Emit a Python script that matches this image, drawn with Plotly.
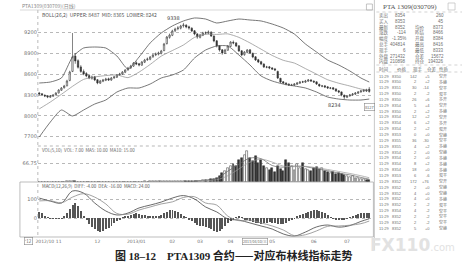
import plotly.graph_objects as go

W, H = 464, 274

# ---------------- daily bars (PTA1309) ----------------
opens = [8330, 8318, 8296, 8290, 8268, 8282, 8302, 8330, 8368, 8405,
         8432, 8510, 8640, 8860, 8795, 8705, 8640, 8610, 8580, 8540,
         8562, 8520, 8470, 8498, 8512, 8534, 8515, 8548, 8556, 8590,
         8600, 8628, 8662, 8690, 8716, 8765, 8750, 8730, 8772, 8808,
         8815, 8850, 8878, 8888, 8900, 8940, 9040, 9130, 9160, 9225,
         9255, 9262, 9296, 9305, 9282, 9262, 9225, 9180, 9130, 9160,
         9195, 9190, 9205, 9148, 9080, 9010, 8950, 8900, 8945, 9000,
         9060, 9050, 9008, 8936, 8880, 8915, 8950, 8900, 8850, 8808,
         8780, 8745, 8700, 8706, 8690, 8676, 8640, 8540, 8490, 8470,
         8455, 8440, 8442, 8455, 8470, 8490, 8485, 8500, 8518, 8500,
         8490, 8455, 8428, 8432, 8418, 8398, 8404, 8388, 8360, 8345,
         8298, 8268, 8288, 8302, 8312, 8326, 8345, 8355, 8375, 8384]
closes = [8314, 8300, 8286, 8271, 8286, 8300, 8329, 8372, 8401, 8430,
          8502, 8631, 8850, 8790, 8700, 8640, 8602, 8574, 8545, 8559,
          8516, 8473, 8502, 8516, 8530, 8516, 8545, 8559, 8588, 8602,
          8631, 8660, 8689, 8718, 8761, 8746, 8732, 8775, 8804, 8818,
          8847, 8876, 8890, 8905, 8934, 9034, 9135, 9164, 9222, 9250,
          9265, 9294, 9308, 9279, 9265, 9222, 9178, 9135, 9164, 9193,
          9193, 9207, 9150, 9078, 9006, 8948, 8905, 8948, 9006, 9063,
          9049, 9006, 8934, 8876, 8919, 8948, 8905, 8847, 8804, 8775,
          8746, 8703, 8703, 8689, 8674, 8660, 8545, 8487, 8473, 8458,
          8444, 8444, 8458, 8473, 8487, 8487, 8502, 8516, 8502, 8487,
          8458, 8430, 8430, 8415, 8401, 8401, 8386, 8358, 8343, 8300,
          8271, 8286, 8300, 8314, 8329, 8343, 8358, 8372, 8358, 8352]
highs = [8345, 8326, 8310, 8298, 8300, 8312, 8340, 8385, 8415, 8446,
         8520, 8650, 9193, 8905, 8815, 8730, 8668, 8630, 8600, 8580,
         8575, 8530, 8518, 8532, 8548, 8550, 8560, 8578, 8600, 8620,
         8645, 8672, 8705, 8735, 8775, 8785, 8762, 8790, 8820, 8840,
         8862, 8892, 8912, 8925, 8950, 9050, 9150, 9185, 9240, 9270,
         9292, 9310, 9338, 9320, 9298, 9275, 9236, 9190, 9180, 9210,
         9215, 9230, 9218, 9160, 9090, 9020, 8962, 8965, 9020, 9075,
         9085, 9062, 9015, 8945, 8932, 8962, 8960, 8910, 8860, 8820,
         8792, 8758, 8720, 8718, 8702, 8690, 8650, 8548, 8502, 8485,
         8470, 8462, 8470, 8488, 8500, 8505, 8518, 8530, 8526, 8510,
         8496, 8462, 8445, 8440, 8425, 8415, 8412, 8395, 8368, 8350,
         8305, 8298, 8315, 8328, 8342, 8356, 8372, 8388, 8390, 8416]
lows = [8295, 8288, 8270, 8255, 8260, 8275, 8296, 8322, 8360, 8392,
        8425, 8498, 8630, 8750, 8680, 8620, 8585, 8556, 8528, 8520,
        8500, 8455, 8460, 8485, 8500, 8502, 8505, 8530, 8545, 8575,
        8590, 8615, 8650, 8675, 8705, 8730, 8712, 8720, 8760, 8790,
        8800, 8836, 8860, 8870, 8885, 8930, 9028, 9110, 9148, 9205,
        9232, 9245, 9270, 9260, 9240, 9205, 9160, 9110, 9115, 9148,
        9170, 9175, 9135, 9060, 8985, 8925, 8880, 8890, 8938, 8990,
        9030, 8990, 8920, 8860, 8865, 8900, 8892, 8830, 8790, 8760,
        8730, 8690, 8685, 8672, 8660, 8645, 8530, 8470, 8458, 8440,
        8430, 8428, 8430, 8445, 8460, 8472, 8475, 8490, 8488, 8474,
        8445, 8418, 8412, 8400, 8388, 8385, 8372, 8345, 8326, 8282,
        8234, 8255, 8275, 8290, 8300, 8315, 8332, 8342, 8345, 8333]
volumes = [0.8, 0.6, 0.7, 0.9, 0.6, 0.8, 1.0, 0.9, 1.2, 1.1,
           1.8, 2.5, 3.2, 2.0, 1.4, 1.2, 1.0, 0.9, 1.1, 0.8,
           0.9, 1.0, 0.8, 0.9, 1.1, 1.0, 1.2, 1.0, 1.3, 1.1,
           1.2, 1.4, 1.3, 1.5, 1.6, 1.4, 1.5, 1.7, 1.8, 1.6,
           1.9, 2.0, 1.8, 2.1, 2.3, 2.8, 3.4, 3.0, 2.9, 3.2,
           3.0, 3.5, 3.8, 3.3, 3.6, 4.0, 4.4, 4.8, 5.2, 5.6,
           6.0, 7.5, 9.0, 11, 14, 22, 30, 38, 50, 58,
           64, 56, 77, 84, 95, 109, 84, 74, 91, 67,
           77, 56, 49, 42, 49, 35, 56, 46, 39, 77,
           67, 56, 42, 63, 49, 67, 46, 42, 39, 49,
           53, 46, 49, 39, 35, 32, 35, 28, 32, 28,
           25, 21, 18, 21, 14, 14, 11, 11, 7, 7]
macd_hist = [30, 25, 12, 2, -4, -5, -4, -3, -2, 8,
             25, 45, 70, 78, 62, 35, 10, -12, -30, -45,
             -58, -70, -74, -68, -60, -50, -40, -28, -18, -8,
             2, 8, 12, 16, 22, 24, 22, 18, 15, 12,
             10, 8, 6, 10, 18, 26, 34, 40, 42, 38,
             32, 22, 12, 2, -8, -18, -28, -36, -42, -44,
             -48, -52, -58, -66, -72, -70, -58, -42, -28, -14,
             -6, 4, 8, 2, -6, -12, -18, -22, -26, -28,
             -30, -28, -24, -22, -24, -26, -30, -32, -30, -24,
             -16, -8, -2, 6, 14, 22, 28, 34, 38, 40,
             42, 38, 32, 24, 14, 4, -4, -8, -10, -10,
             -8, -4, 2, 8, 14, 20, 24, 28, 28, 24]

# Bollinger band readings, every fourth session
band_idx = [0, 4, 8, 12, 16, 20, 24, 28, 32, 36, 40, 44, 48, 52, 56, 60,
            64, 68, 72, 76, 80, 84, 88, 92, 96, 100, 104, 108, 112, 116, 119]
boll_upper = [8473, 8487, 8545, 8847, 8977, 8991, 8977, 8862, 8674, 8847,
              9049, 9193, 9294, 9366, 9409, 9394, 9337, 9366, 9394, 9380,
              9366, 9322, 9265, 9178, 9034, 8919, 8804, 8732, 8646, 8545, 8487]
boll_mid = [8100, 8199, 8310, 8425, 8525, 8560, 8580, 8590, 8550, 8630,
            8740, 8860, 8940, 9020, 9130, 9175, 9172, 9180, 9130, 9050,
            8960, 8870, 8800, 8760, 8680, 8600, 8520, 8470, 8430, 8386, 8365]
boll_lower = [7695, 7911, 8084, 7998, 8084, 8170, 8228, 8343, 8401, 8401,
              8458, 8545, 8588, 8660, 8833, 8948, 9006, 9006, 8876, 8732,
              8574, 8502, 8458, 8430, 8401, 8343, 8271, 8242, 8228, 8228, 8242]
macd_dif = [105, 89, 79, 142, 131, 79, 37, 16, 26, 53, 68, 84, 105, 118, 100, 58,
            32, -5, -11, -26, -42, -58, -84, -95, -74, -47, -37, -48, -40, -18, -4]
macd_dea = [90, 91, 80, 110, 128, 110, 74, 24, 20, 42, 58, 74, 85, 108, 112, 79,
            68, 10, -14, -11, -26, -42, -63, -93, -88, -68, -44, -42, -38, -30, -16]

# volume moving averages
vol_ma_idx = [56, 60, 64, 68, 72, 76, 80, 84, 88, 92, 96, 100, 104, 108, 112, 116, 119]
vol_ma5 = [4.2, 6, 12, 38, 62, 84, 82, 58, 52, 56, 54, 46, 40, 31, 25, 16, 10]
vol_ma10 = [3.6, 5, 8, 22, 46, 70, 80, 70, 56, 54, 55, 50, 44, 37, 30, 22, 15]

month_pos = [2, 7, 21, 35, 48, 58, 69, 84, 99, 111]
month_text = ["2012/10", "11", "12", "2013/01", "02", "03", "04", "05", "06", "07"]
price_ticks = [7700, 8000, 8300, 8600, 8900, 9200]

# quote board
quote_l_labels = ["卖出", "买入", "最新", "涨跌", "幅度", "总手", "现手", "外盘", "内盘"]
quote_l_values = ["8354", "8353", "8352", "-114", "-1.35%", "404814", "6", "271432", "210898"]
quote_r_labels = ["", "", "均价", "昨结", "开盘", "最高", "最低", "仓差", "持仓"]
quote_r_values = ["260", "45", "8373", "8466", "8384", "8416", "8333", "15672", "194326"]
tick_header = ["时间", "价格", "现手", "仓差", "性质"]
tick_price = [8350, 8350, 8351, 8350, 8350, 8354, 8350, 8354, 8354, 8354,
              8353, 8355, 8355, 8354, 8354, 8354, 8354, 8353, 8352, 8352,
              8352, 8352, 8352, 8354, 8352, 8352, 8352]
tick_vol = [142, 2, 30, 2, 26, 5, 2, 12, 6, 2, 0, 36, 4, 2, 2, 8, 18, 6, 172, 2,
            4, 4, 2, 4, 2, 2, 5]
tick_oi = ["+5", "+2", "-14", "-2", "+6", "+4", "+2", "+2", "+2", "+2", "+0", "-30",
           "+2", "+0", "+0", "+2", "+0", "-6", "+76", "+0", "+0", "+0", "-2", "-2",
           "-2", "-2", "+0"]
tick_kind = ["空开", "多换", "空平", "双平", "多开", "空开", "多换", "空开", "多开", "双开",
             "空换", "空平", "多换", "空换", "多换", "多换", "多换", "双平", "空开", "空换",
             "空换", "多换", "双平", "空平", "空平", "空平", "空换"]

idx = list(range(len(closes)))


def px(x):
    return x / W


def py(y):
    return 1 - y / H


X0, X1 = px(36), px(373)
DARK = "#333333"
GRID = "#b8b8b8"
TXT = "#707070"
CJK = "Noto Sans CJK SC"
NUM = "Liberation Sans"

fig = go.Figure()

fig.add_trace(go.Candlestick(
    x=idx, open=opens, high=highs, low=lows, close=closes,
    xaxis="x", yaxis="y", whiskerwidth=0,
    increasing=dict(line=dict(color=DARK, width=0.6), fillcolor="white"),
    decreasing=dict(line=dict(color=DARK, width=0.6), fillcolor=DARK),
    hoverinfo="skip"))
for ys, col, wd in [(boll_upper, "#555555", 0.8), (boll_mid, "#8a8a8a", 0.7),
                    (boll_lower, "#555555", 0.8)]:
    fig.add_trace(go.Scatter(x=band_idx, y=ys, mode="lines", xaxis="x", yaxis="y",
                             line=dict(color=col, width=wd, shape="spline", smoothing=0.6),
                             hoverinfo="skip"))

bar_fill = ["white" if c >= o else DARK for o, c in zip(opens, closes)]
fig.add_trace(go.Bar(x=idx, y=volumes, xaxis="x2", yaxis="y2", width=0.7,
                     marker=dict(color=bar_fill, line=dict(color=DARK, width=0.5)),
                     hoverinfo="skip"))
fig.add_trace(go.Scatter(x=vol_ma_idx, y=vol_ma5, mode="lines", xaxis="x2", yaxis="y2",
                         line=dict(color="#666666", width=0.7, shape="spline"), hoverinfo="skip"))
fig.add_trace(go.Scatter(x=vol_ma_idx, y=vol_ma10, mode="lines", xaxis="x2", yaxis="y2",
                         line=dict(color="#999999", width=0.7, shape="spline"), hoverinfo="skip"))

fig.add_trace(go.Bar(x=idx, y=macd_hist, xaxis="x3", yaxis="y3", width=0.35,
                     marker=dict(color="#555555", line=dict(width=0)), hoverinfo="skip"))
fig.add_trace(go.Scatter(x=band_idx, y=macd_dif, mode="lines", xaxis="x3", yaxis="y3",
                         line=dict(color="#444444", width=0.8, shape="spline"), hoverinfo="skip"))
fig.add_trace(go.Scatter(x=band_idx, y=macd_dea, mode="lines", xaxis="x3", yaxis="y3",
                         line=dict(color="#8a8a8a", width=0.8, shape="spline"), hoverinfo="skip"))

xcommon = dict(domain=[X0, X1], range=[-0.5, 120.5], showgrid=False, zeroline=False,
               showline=False, ticks="", fixedrange=True)
ycommon = dict(showgrid=True, gridcolor=GRID, griddash="dot", gridwidth=0.6,
               zeroline=False, showline=False, ticks="", fixedrange=True,
               tickfont=dict(size=5, color=TXT, family="DejaVu Sans"))

fig.update_layout(
    width=W, height=H, margin=dict(l=0, r=0, t=0, b=0),
    paper_bgcolor="white", plot_bgcolor="white", showlegend=False,
    hovermode=False, bargap=0, font=dict(family=CJK, color=TXT),
    xaxis=dict(xcommon, anchor="y", showticklabels=False, rangeslider=dict(visible=False)),
    xaxis2=dict(xcommon, anchor="y2", matches="x", showticklabels=False),
    xaxis3=dict(xcommon, anchor="y3", matches="x", tickmode="array",
                tickvals=month_pos, ticktext=month_text, tickangle=0,
                tickfont=dict(size=4.5, color=TXT, family="DejaVu Sans")),
    yaxis=dict(ycommon, domain=[py(146), py(10)], range=[7566, 9524],
               tickmode="array", tickvals=price_ticks),
    yaxis2=dict(ycommon, domain=[py(182), py(148)], range=[0, 119.5],
                tickmode="array", tickvals=[66.75], ticktext=["66.75"]),
    yaxis3=dict(ycommon, domain=[py(237), py(184)], range=[-100, 179],
                tickmode="array", tickvals=[0, 100]),
)

shapes = []


def hline(y, x0, x1, color="#9a9a9a", dash="dot", width=0.7):
    shapes.append(dict(type="line", xref="paper", yref="paper", x0=px(x0), x1=px(x1),
                       y0=py(y), y1=py(y), line=dict(color=color, dash=dash, width=width)))


def vline(x, y0, y1, color="#9a9a9a", dash="dot", width=0.7):
    shapes.append(dict(type="line", xref="paper", yref="paper", x0=px(x), x1=px(x),
                       y0=py(y0), y1=py(y1), line=dict(color=color, dash=dash, width=width)))


def box(x0, y0, x1, y1, color="#9a9a9a", width=0.7):
    shapes.append(dict(type="rect", xref="paper", yref="paper", x0=px(x0), x1=px(x1),
                       y0=py(y1), y1=py(y0), line=dict(color=color, width=width)))


vline(36, 10, 237)
hline(10, 18, 373, dash="solid", color="#c8c8c8")
hline(146, 36, 373)
box(18, 182, 373, 237, color="#a0a0a0")
vline(374, 0, 250, dash="solid", color="#b0b0b0")
box(366, 4, 372, 10, color="#aaaaaa")
box(448, 3, 455, 10, color="#bbbbbb")
hline(12, 376, 462, color="#c0c0c0")
hline(65, 376, 462, color="#c0c0c0")
hline(72, 376, 462, color="#c0c0c0")
fig.update_layout(shapes=shapes)

ann = []


def note(text, x, y, size=5, color=TXT, xanchor="left", family=CJK, **kw):
    ann.append(dict(text=text, x=px(x), y=py(y), xref="paper", yref="paper",
                    xanchor=xanchor, yanchor="middle", showarrow=False,
                    font=dict(size=size, color=color, family=family), **kw))


note("PTA1309(030709)(日线)", 18, 6, size=5, color="#888888")
note("BOLL(26,2)  UPPER: %d  MID: %d  LOWER: %d" % (boll_upper[-1], boll_mid[-1], boll_lower[-1]),
     38, 14, size=5, color="#555555")
note("VOL(5,10)  VOL: %.2f  MA5: %.2f  MA10: %.2f" % (volumes[-1], vol_ma5[-1], vol_ma10[-1]),
     38, 149.5, size=4.5, color="#666666")
note("MACD(12,26,9)  DIFF: %.2f  DEA: %.2f  MACD: %.2f" % (macd_dif[-1], macd_dea[-1], macd_hist[-1]),
     38, 186, size=4.5, color="#555555")

# extreme price markers
hi_i = 52
ann.append(dict(text=str(highs[hi_i]), x=hi_i, y=highs[hi_i], xref="x", yref="y",
                xanchor="right", yanchor="bottom", showarrow=False, xshift=-1,
                font=dict(size=5, color="#444444", family="DejaVu Sans")))
lo_i = 110
ann.append(dict(text=str(lows[lo_i]), x=lo_i, y=lows[lo_i], xref="x", yref="y",
                xanchor="right", yanchor="top", showarrow=False, xshift=-1,
                font=dict(size=5, color="#444444", family="DejaVu Sans")))

# cursor readouts
note("2013/04/10/三", 254, 241, size=3.6, color="#666666", xanchor="center",
     bordercolor="#888888", borderwidth=0.6, borderpad=0.4, bgcolor="white")
note("8127", 369.5, 107, size=4, color="#666666", xanchor="center",
     bordercolor="#888888", borderwidth=0.6, borderpad=0.3, bgcolor="white")
note("'12", 27, 241, size=4.5, color="#666666", xanchor="center",
     bordercolor="#888888", borderwidth=0.6, borderpad=0.5)

# quote board
note("PTA 1309(030709)", 410, 7, size=7, color="#555555", xanchor="center",
     family="Liberation Serif")
for k in range(len(quote_l_labels)):
    y = 15.5 + k * 5.8
    note(quote_l_labels[k], 377, y, size=4.5)
    note(quote_l_values[k], 408, y, size=4.5, xanchor="right", family=NUM)
    if quote_r_labels[k]:
        note(quote_r_labels[k], 413, y, size=4.5)
    note(quote_r_values[k], 446, y, size=4.5, xanchor="right", family=NUM)

head_x = [377, 395, 411, 425, 437]
for hx, txt in zip(head_x, tick_header):
    note(txt, hx, 69, size=4.5)
for k in range(len(tick_price)):
    y = 76 + k * 5.85
    note("11:29", 377, y, size=4, family=NUM)
    note(str(tick_price[k]), 404, y, size=4, xanchor="right", family=NUM)
    note(str(tick_vol[k]), 419, y, size=4, xanchor="right", family=NUM)
    note(tick_oi[k], 432, y, size=4, xanchor="right", family=NUM)
    note(tick_kind[k], 437, y, size=4)

# site mark
note("<b>FX110</b><span style='font-size:10px'>.com</span>", 368, 245, size=17,
     color="#e2e2e2", family="DejaVu Sans")

# caption
note("<b>图 <span style='font-family:Liberation Serif'>18–12</span>　"
     "<span style='font-family:Liberation Serif'>PTA1309</span> 合约——对应布林线指标走势</b>",
     232, 255, size=11, color="#222222", xanchor="center")

fig.update_layout(annotations=ann)
fig.write_html("out.html")
